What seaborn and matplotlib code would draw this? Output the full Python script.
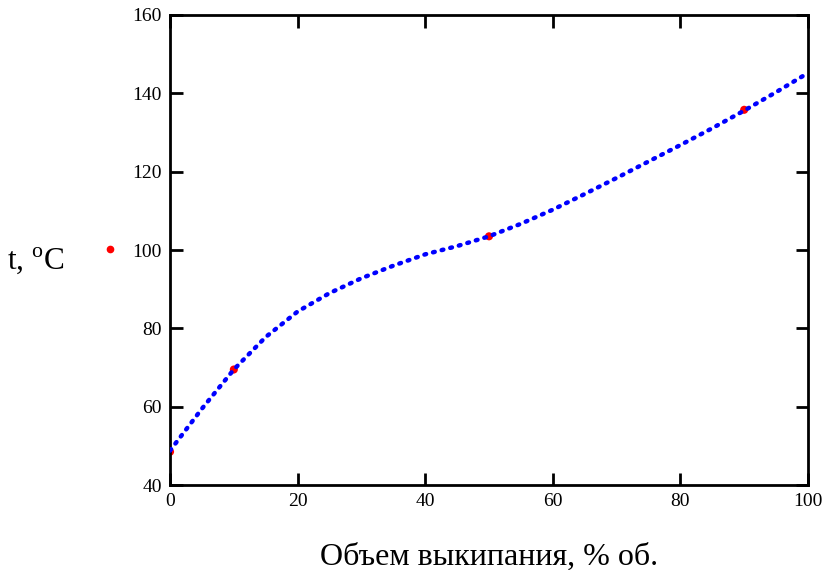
import numpy as np
import pandas as pd
import matplotlib
matplotlib.use('Agg')
import matplotlib.pyplot as plt
import seaborn as sns

# curve (volume boiled off, %  ->  temperature, C)
curve_x = [0, 5, 10, 15, 20, 25, 30, 35, 40, 45, 50, 55, 60, 65, 70, 75, 80, 85, 90, 95, 100]
curve_t = [48.8, 59.5, 69.5, 77.8, 84.3, 89.0, 92.8, 96.0, 98.9, 101.0, 103.5, 106.7, 110.3,
           114.3, 118.4, 122.6, 126.8, 131.1, 135.6, 140.3, 145.2]

# measured points
pts_x = [0, 10, 50, 90]
pts_t = [48.5, 69.5, 103.5, 135.8]

# stray trace marker next to the y label
legend_x = [-9.4]
legend_t = [100.3]

x_ticks = [0, 20, 40, 60, 80, 100]
y_ticks = [40, 60, 80, 100, 120, 140, 160]

sns.set_style('ticks')
plt.rcParams['font.family'] = ['Liberation Serif', 'DejaVu Serif']
plt.rcParams['mathtext.fontset'] = 'custom'
plt.rcParams['mathtext.rm'] = 'Liberation Serif'
plt.rcParams['text.color'] = 'black'
plt.rcParams['axes.labelcolor'] = 'black'
plt.rcParams['xtick.color'] = 'black'
plt.rcParams['ytick.color'] = 'black'

df_curve = pd.DataFrame({'x': curve_x, 't': curve_t})
df_pts = pd.DataFrame({'x': pts_x, 't': pts_t})

fig = plt.figure(figsize=(8.27, 5.70), dpi=100)
ax = fig.add_axes([0.2056, 0.149, 0.977 - 0.2056, 0.9737 - 0.149])

sns.lineplot(data=df_curve, x='x', y='t', ax=ax, color='#0000ff', lw=3.2,
             linestyle=(0, (0.4, 1.6)), dash_capstyle='round', zorder=3)
sns.scatterplot(data=df_pts, x='x', y='t', ax=ax, color='#ff0000', s=34,
                edgecolor='none', zorder=2)
ax.plot(legend_x, legend_t, 'o', color='#ff0000', ms=4.5, clip_on=False)

ax.set_xlim(0, 100)
ax.set_ylim(40, 160)
ax.set_xticks(x_ticks)
ax.set_yticks(y_ticks)
ax.tick_params(direction='in', length=9, width=2, labelsize=14, color='black',
               labelcolor='black', top=True, right=True, pad=6)
for s in ax.spines.values():
    s.set_visible(True)
    s.set_linewidth(2)
    s.set_color('black')

ax.set_xlabel('Объем выкипания, % об.', fontsize=23, labelpad=23, color='black')
ax.set_ylabel('')
fig.text(0.008, 0.542, r't, $^{\mathrm{o}}$C', fontsize=22.5, ha='left', va='center',
         color='black')

fig.savefig('out.png', dpi=100)
